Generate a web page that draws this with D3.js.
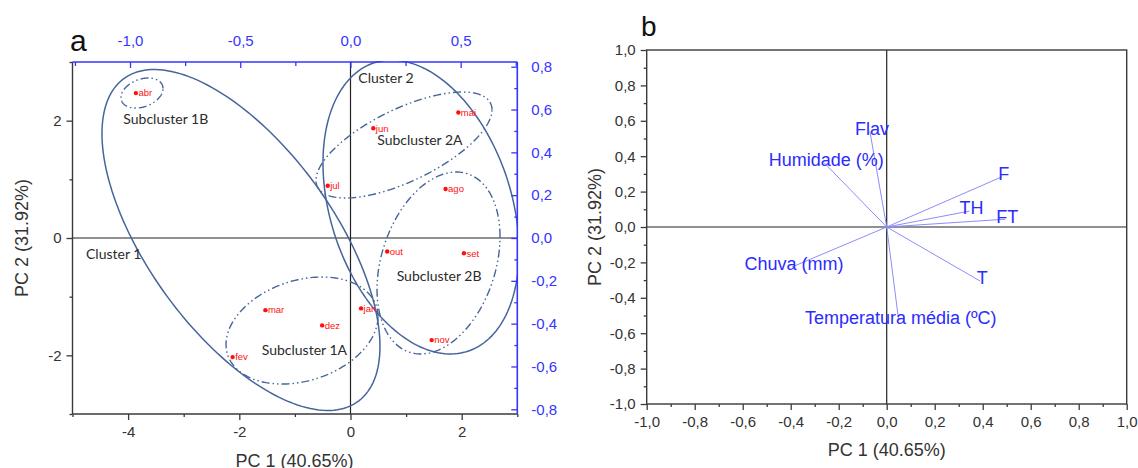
<!DOCTYPE html>
<html>
<head>
<meta charset="utf-8">
<script src="https://cdn.jsdelivr.net/npm/d3@7"></script>
<style>
  body { margin: 0; background: #fff; }
  svg text { font-family: Arial, "Liberation Sans", sans-serif; }
</style>
</head>
<body>
<svg id="chart" width="1138" height="468"></svg>
<script>
// ---- data: panel a (scores) ----
const months = ['abr', 'mai', 'jun', 'jul', 'ago', 'out', 'set', 'jan', 'dez', 'nov', 'mar', 'fev'];
const pc1Scores = [-3.86, 1.94, 0.41, -0.41, 1.71, 0.66, 2.04, 0.19, -0.51, 1.46, -1.53, -2.12];
const pc2Scores = [2.47, 2.14, 1.87, 0.89, 0.835, -0.23, -0.26, -1.20, -1.49, -1.74, -1.23, -2.03];

// confidence ellipses: centre, spread along PC1 / PC2, correlation
const ellipseNames = ['Cluster 1', 'Cluster 2', 'Subcluster 1A', 'Subcluster 1B', 'Subcluster 2A', 'Subcluster 2B'];
const ellipseKind = ['cluster', 'cluster', 'sub', 'sub', 'sub', 'sub'];
const ellipseCx = [-1.97, 1.268, -0.872, -3.75, 0.962, 1.583];
const ellipseCy = [-0.034, 0.528, -1.577, 2.471, 1.585, -0.426];
const ellipseSdx = [2.50, 1.763, 1.367, 0.378, 1.583, 1.106];
const ellipseSdy = [2.906, 2.505, 0.912, 0.256, 0.903, 1.551];
const ellipseRho = [-0.624, -0.30, 0.26, 0.30, 0.665, 0.29];

// where the group names are written (PC1, PC2)
const groupLabels = ['Cluster 2', 'Subcluster 2A', 'Subcluster 1B', 'Cluster 1', 'Subcluster 1A', 'Subcluster 2B'];
const groupLabelX = [0.14, 0.48, -4.086, -4.757, -1.597, 0.83];
const groupLabelY = [2.64, 1.585, 1.943, -0.358, -2.0, -0.733];

// ---- data: panel b (loadings) ----
const variables = ['Flav', 'Humidade (%)', 'F', 'TH', 'FT', 'Chuva (mm)', 'T', 'Temperatura média (ºC)'];
const loadPC1 = [-0.07, -0.26, 0.479, 0.345, 0.494, -0.395, 0.39, 0.05];
const loadPC2 = [0.54, 0.362, 0.283, 0.09, 0.044, -0.226, -0.306, -0.528];

// ---- ticks ----
const aBottomMajor = [-4, -2, 0, 2];
const aBottomMinor = [-5, -3, -1, 1, 3];
const aLeftMajor = [-2, 0, 2];
const aLeftMinor = [-3, -1, 1, 3];
const aTopMajor = [-1.0, -0.5, 0.0, 0.5];
const aTopMinor = [-1.25, -0.75, -0.25, 0.25, 0.75];
const aRightMajor = [-0.8, -0.6, -0.4, -0.2, 0.0, 0.2, 0.4, 0.6, 0.8];
const aRightMinor = [-0.7, -0.5, -0.3, -0.1, 0.1, 0.3, 0.5, 0.7];
const bMajor = [-1.0, -0.8, -0.6, -0.4, -0.2, 0.0, 0.2, 0.4, 0.6, 0.8, 1.0];
const bMinor = [-0.9, -0.7, -0.5, -0.3, -0.1, 0.1, 0.3, 0.5, 0.7, 0.9];

const ptLocale = d3.formatLocale({decimal: ',', thousands: '.', grouping: [3], currency: ['', ''], minus: '-'});
const fmt1 = ptLocale.format('.1f');
const fmt0 = ptLocale.format('d');

const svg = d3.select('#chart');
const axisCol = '#3a3a3a';
const blueCol = '#3535ff';
const ellCol = '#46659a';

function styleAxis(g, col) {
  g.select('.domain').remove();
  g.selectAll('line').attr('stroke', col).attr('stroke-width', 1.3);
  g.selectAll('text').attr('fill', col).style('font-size', '15px');
}

// ================= panel a =================
const xA = d3.scaleLinear().domain([-5, 3]).range([72.5, 517.3]);
const yA = d3.scaleLinear().domain([-3, 3]).range([414, 62]);
const xTop = d3.scaleLinear().domain([-1.261, 0.757]).range([72.5, 517.3]);
const yRight = d3.scaleLinear().domain([-0.822, 0.822]).range([414, 62]);

const pa = svg.append('g');

pa.append('clipPath').attr('id', 'clipA')
  .append('rect').attr('x', 72.5).attr('y', 61).attr('width', 445).attr('height', 353);

// zero lines
pa.append('line').attr('x1', xA(0)).attr('x2', xA(0)).attr('y1', yA(3)).attr('y2', yA(-3))
  .attr('stroke', '#222').attr('stroke-width', 1.2);
pa.append('line').attr('x1', xA(-5)).attr('x2', xA(3)).attr('y1', yA(0)).attr('y2', yA(0))
  .attr('stroke', '#222').attr('stroke-width', 1.2);

// ellipses
function ellipsePath(i) {
  const s = Math.sqrt(1 - ellipseRho[i] * ellipseRho[i]);
  const pts = d3.range(0, 361, 2).map(deg => {
    const t = deg * Math.PI / 180;
    return [xA(ellipseCx[i] + ellipseSdx[i] * Math.cos(t)),
            yA(ellipseCy[i] + ellipseSdy[i] * (ellipseRho[i] * Math.cos(t) + s * Math.sin(t)))];
  });
  return d3.line()(pts) + 'Z';
}
pa.append('g').attr('clip-path', 'url(#clipA)')
  .selectAll('path').data(ellipseNames).join('path')
  .attr('d', (d, i) => ellipsePath(i))
  .attr('fill', 'none')
  .attr('stroke', ellCol)
  .attr('stroke-width', (d, i) => ellipseKind[i] === 'cluster' ? 1.5 : 1.4)
  .attr('stroke-dasharray', (d, i) => ellipseKind[i] === 'cluster' ? null : '8,3,1.5,3,1.5,3');

// group labels
pa.selectAll('text.grp').data(groupLabels).join('text')
  .attr('class', 'grp')
  .attr('x', (d, i) => xA(groupLabelX[i]))
  .attr('y', (d, i) => yA(groupLabelY[i]))
  .attr('fill', '#2b2b2b')
  .style('font-family', 'Lato, "Open Sans", sans-serif')
  .style('font-size', '14px')
  .text(d => d);

// points
pa.selectAll('circle').data(months).join('circle')
  .attr('cx', (d, i) => xA(pc1Scores[i]))
  .attr('cy', (d, i) => yA(pc2Scores[i]))
  .attr('r', 2.2)
  .attr('fill', '#ff1010');
pa.selectAll('text.pt').data(months).join('text')
  .attr('class', 'pt')
  .attr('x', (d, i) => xA(pc1Scores[i]) + 2.5)
  .attr('y', (d, i) => yA(pc2Scores[i]))
  .attr('dy', '0.35em')
  .attr('fill', '#ff1010')
  .style('font-size', '9.5px')
  .text(d => d);

// axes: left / bottom (black, outward)
const aLeftMin = pa.append('g').attr('transform', `translate(${xA(-5)},0)`)
  .call(d3.axisLeft(yA).tickValues(aLeftMinor).tickSize(3).tickFormat(''));
styleAxis(aLeftMin, axisCol);
const aLeft = pa.append('g').attr('transform', `translate(${xA(-5)},0)`)
  .call(d3.axisLeft(yA).tickValues(aLeftMajor).tickSize(6).tickPadding(5).tickFormat(fmt0));
styleAxis(aLeft, axisCol);
aLeft.selectAll('text').attr('fill', '#333');

const aBotMin = pa.append('g').attr('transform', `translate(0,${yA(-3)})`)
  .call(d3.axisBottom(xA).tickValues(aBottomMinor).tickSize(3).tickFormat(''));
styleAxis(aBotMin, axisCol);
const aBot = pa.append('g').attr('transform', `translate(0,${yA(-3)})`)
  .call(d3.axisBottom(xA).tickValues(aBottomMajor).tickSize(6).tickPadding(6).tickFormat(fmt0));
styleAxis(aBot, axisCol);
aBot.selectAll('text').attr('fill', '#333');

// axes: top / right (blue, inward)
const aTopMin = pa.append('g').attr('transform', `translate(0,${yA(3)})`)
  .call(d3.axisTop(xTop).tickValues(aTopMinor).tickSize(-4).tickFormat(''));
styleAxis(aTopMin, blueCol);
const aTop = pa.append('g').attr('transform', `translate(0,${yA(3)})`)
  .call(d3.axisTop(xTop).tickValues(aTopMajor).tickSize(-6).tickPadding(16).tickFormat(fmt1));
styleAxis(aTop, blueCol);

const aRightMin = pa.append('g').attr('transform', `translate(${xA(3)},0)`)
  .call(d3.axisRight(yRight).tickValues(aRightMinor).tickSize(-3).tickFormat(''));
styleAxis(aRightMin, blueCol);
const aRight = pa.append('g').attr('transform', `translate(${xA(3)},0)`)
  .call(d3.axisRight(yRight).tickValues(aRightMajor).tickSize(-6).tickPadding(14).tickFormat(fmt1));
styleAxis(aRight, blueCol);

// frame lines
pa.append('line').attr('x1', xA(-5)).attr('x2', xA(-5)).attr('y1', yA(3)).attr('y2', yA(-3))
  .attr('stroke', axisCol).attr('stroke-width', 1.4);
pa.append('line').attr('x1', xA(-5)).attr('x2', xA(3)).attr('y1', yA(-3)).attr('y2', yA(-3))
  .attr('stroke', axisCol).attr('stroke-width', 1.4);
pa.append('line').attr('x1', xA(-5)).attr('x2', xA(3)).attr('y1', yA(3)).attr('y2', yA(3))
  .attr('stroke', blueCol).attr('stroke-width', 1.6);
pa.append('line').attr('x1', xA(3)).attr('x2', xA(3)).attr('y1', yA(3)).attr('y2', yA(-3))
  .attr('stroke', blueCol).attr('stroke-width', 1.6);

// titles
pa.append('text').attr('x', 294.5).attr('y', 467).attr('text-anchor', 'middle')
  .attr('fill', '#333').style('font-size', '18px').text('PC 1 (40.65%)');
pa.append('text').attr('transform', 'translate(28,238) rotate(-90)').attr('text-anchor', 'middle')
  .attr('fill', '#333').style('font-size', '18px').text('PC 2 (31.92%)');
pa.append('text').attr('x', 70).attr('y', 51).attr('fill', '#111')
  .style('font-size', '30px').text('a');

// ================= panel b =================
const xB = d3.scaleLinear().domain([-1, 1]).range([646.7, 1126.7]);
const yB = d3.scaleLinear().domain([-1, 1]).range([404, 50]);
const pb = svg.append('g');

pb.append('line').attr('x1', xB(0)).attr('x2', xB(0)).attr('y1', yB(1)).attr('y2', yB(-1))
  .attr('stroke', '#222').attr('stroke-width', 1.2);
pb.append('line').attr('x1', xB(-1)).attr('x2', xB(1)).attr('y1', yB(0)).attr('y2', yB(0))
  .attr('stroke', '#222').attr('stroke-width', 1.2);

// loading vectors
pb.selectAll('line.vec').data(variables).join('line')
  .attr('class', 'vec')
  .attr('x1', xB(0)).attr('y1', yB(0))
  .attr('x2', (d, i) => xB(loadPC1[i]))
  .attr('y2', (d, i) => yB(loadPC2[i]))
  .attr('stroke', '#8c8cff').attr('stroke-width', 1);
pb.selectAll('text.vec').data(variables).join('text')
  .attr('class', 'vec')
  .attr('x', (d, i) => xB(loadPC1[i]) + 2)
  .attr('y', (d, i) => yB(loadPC2[i]) - 3)
  .attr('dy', '0.35em')
  .attr('text-anchor', 'middle')
  .attr('fill', '#2b2bff')
  .style('font-size', '18px')
  .text(d => d);

const bLeftMin = pb.append('g').attr('transform', `translate(${xB(-1)},0)`)
  .call(d3.axisLeft(yB).tickValues(bMinor).tickSize(3).tickFormat(''));
styleAxis(bLeftMin, axisCol);
const bLeft = pb.append('g').attr('transform', `translate(${xB(-1)},0)`)
  .call(d3.axisLeft(yB).tickValues(bMajor).tickSize(6).tickPadding(5).tickFormat(fmt1));
styleAxis(bLeft, axisCol);
bLeft.selectAll('text').attr('fill', '#333');

const bBotMin = pb.append('g').attr('transform', `translate(0,${yB(-1)})`)
  .call(d3.axisBottom(xB).tickValues(bMinor).tickSize(3).tickFormat(''));
styleAxis(bBotMin, axisCol);
const bBot = pb.append('g').attr('transform', `translate(0,${yB(-1)})`)
  .call(d3.axisBottom(xB).tickValues(bMajor).tickSize(6).tickPadding(6).tickFormat(fmt1));
styleAxis(bBot, axisCol);
bBot.selectAll('text').attr('fill', '#333');

pb.append('rect').attr('x', xB(-1)).attr('y', yB(1))
  .attr('width', xB(1) - xB(-1)).attr('height', yB(-1) - yB(1))
  .attr('fill', 'none').attr('stroke', axisCol).attr('stroke-width', 1.4);

pb.append('text').attr('x', xB(0)).attr('y', 456).attr('text-anchor', 'middle')
  .attr('fill', '#333').style('font-size', '18px').text('PC 1 (40.65%)');
pb.append('text').attr('transform', `translate(601,${yB(0)}) rotate(-90)`).attr('text-anchor', 'middle')
  .attr('fill', '#333').style('font-size', '18px').text('PC 2 (31.92%)');
pb.append('text').attr('x', 641).attr('y', 36).attr('fill', '#111')
  .style('font-size', '28px').text('b');
</script>
</body>
</html>
